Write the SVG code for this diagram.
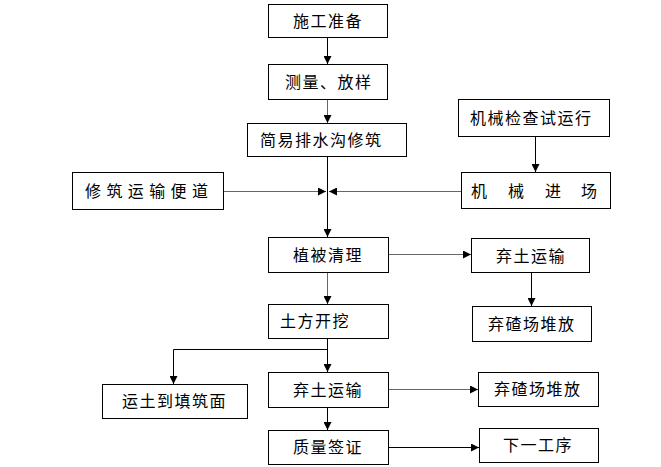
<svg xmlns="http://www.w3.org/2000/svg" width="661" height="467" viewBox="0 0 661 467">
<defs>
<style>
.b{fill:#fff;stroke:#000;stroke-width:1}
.t{font-family:"Noto Sans CJK SC","Noto Sans",sans-serif;font-size:16px;fill:#000;letter-spacing:1.5px}
.c{fill:none;stroke:#000;stroke-width:1}
.g{stroke:#666}
</style>
<marker id="a" viewBox="0 0 8 8" refX="8" refY="4" markerWidth="8" markerHeight="8" markerUnits="userSpaceOnUse" orient="auto">
<path d="M0,0 L8,4 L0,8 z" fill="#000"/>
</marker>
</defs>
<rect width="661" height="467" fill="#fff"/>
<g id="connectors">
<path class="c" d="M327.5,37 V64" marker-end="url(#a)"/>
<path class="c g" d="M327.5,99 V123" marker-end="url(#a)"/>
<path class="c" d="M327.5,156 V237" marker-end="url(#a)"/>
<path class="c" d="M535.5,136 V172" marker-end="url(#a)"/>
<path class="c g" d="M223,191.5 H326" marker-end="url(#a)"/>
<path class="c g" d="M461,191.5 H329" marker-end="url(#a)"/>
<path class="c g" d="M327.5,272 V304" marker-end="url(#a)"/>
<path class="c g" d="M388,254.5 H471" marker-end="url(#a)"/>
<path class="c" d="M531.5,272 V306" marker-end="url(#a)"/>
<path class="c" d="M327.5,338 V372" marker-end="url(#a)"/>
<path class="c" d="M327.5,349.5 H173.5 V384" marker-end="url(#a)"/>
<path class="c" d="M327.5,407 V430" marker-end="url(#a)"/>
<path class="c g" d="M388,389.5 H478" marker-end="url(#a)"/>
<path class="c" d="M388,447.5 H479" marker-end="url(#a)"/>
</g>
<g id="n1"><rect class="b" x="268.5" y="4.5" width="119" height="33"/><text class="t" x="293" y="27">施工准备</text></g>
<g id="n2"><rect class="b" x="268.5" y="64.5" width="119" height="35"/><text class="t" x="285" y="88">测量、放样</text></g>
<g id="n3"><rect class="b" x="247.5" y="123.5" width="159" height="33"/><text class="t" x="260" y="146">简易排水沟修筑</text></g>
<g id="n4"><rect class="b" x="458.5" y="99.5" width="151" height="37"/><text class="t" x="470" y="124">机械检查试运行</text></g>
<g id="n5"><rect class="b" x="461.5" y="172.5" width="149" height="36"/><text class="t" x="471" y="197">机</text><text class="t" x="508" y="197">械</text><text class="t" x="545" y="197">进</text><text class="t" x="581" y="197">场</text></g>
<g id="n6"><rect class="b" x="72.5" y="172.5" width="151" height="37"/><text class="t" x="85" y="197" style="letter-spacing:5.4px">修筑运输便道</text></g>
<g id="n7"><rect class="b" x="268.5" y="237.5" width="120" height="35"/><text class="t" x="293" y="261">植被清理</text></g>
<g id="n8"><rect class="b" x="471.5" y="238.5" width="118" height="34"/><text class="t" x="496" y="262">弃土运输</text></g>
<g id="n9"><rect class="b" x="472.5" y="306.5" width="119" height="35"/><text class="t" x="488" y="330">弃碴场堆放</text></g>
<g id="n10"><rect class="b" x="268.5" y="304.5" width="120" height="34"/><text class="t" x="280" y="327">土方开挖</text></g>
<g id="n11"><rect class="b" x="102.5" y="384.5" width="145" height="34"/><text class="t" x="122" y="407">运土到填筑面</text></g>
<g id="n12"><rect class="b" x="268.5" y="372.5" width="120" height="35"/><text class="t" x="293" y="396">弃土运输</text></g>
<g id="n13"><rect class="b" x="478.5" y="372.5" width="120" height="34"/><text class="t" x="494" y="395">弃碴场堆放</text></g>
<g id="n14"><rect class="b" x="268.5" y="430.5" width="120" height="34"/><text class="t" x="293" y="453">质量签证</text></g>
<g id="n15"><rect class="b" x="479.5" y="428.5" width="119" height="34"/><text class="t" x="503" y="451">下一工序</text></g>
</svg>
